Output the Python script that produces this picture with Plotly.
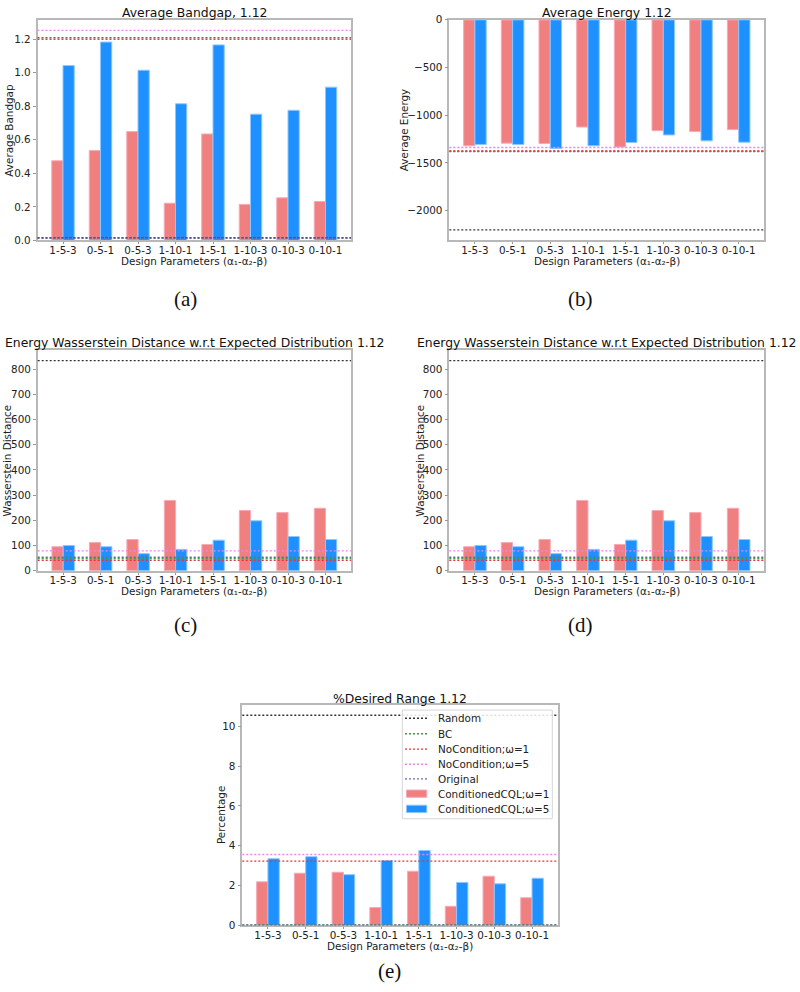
import plotly.graph_objects as go

# ---------------- data ----------------
categories = ["1-5-3", "0-5-1", "0-5-3", "1-10-1", "1-5-1", "1-10-3", "0-10-3", "0-10-1"]

bandgap_cql_w1 = [0.475, 0.536, 0.649, 0.222, 0.635, 0.215, 0.254, 0.232]
bandgap_cql_w5 = [1.043, 1.183, 1.015, 0.815, 1.166, 0.753, 0.776, 0.914]
bandgap_baselines = {"Random": 0.016, "BC": 1.200, "NoCondition;ω=1": 1.209,
                     "NoCondition;ω=5": 1.253, "Original": 0.013}

energy_cql_w1 = [-1321, -1293, -1297, -1124, -1334, -1162, -1172, -1151]
energy_cql_w5 = [-1307, -1307, -1348, -1321, -1286, -1207, -1269, -1283]
energy_baselines = {"Random": -2203, "BC": -1378, "NoCondition;ω=1": -1375,
                    "NoCondition;ω=5": -1338, "Original": -1382}

wass_cql_w1 = [95.5, 112, 124, 279, 104.5, 239, 231, 248]
wass_cql_w5 = [100.5, 95.5, 68, 85, 121.5, 198.5, 136, 124]
wass_baselines = {"Random": 834, "BC": 50, "NoCondition;ω=1": 42,
                  "NoCondition;ω=5": 79, "Original": 54}

pct_cql_w1 = [2.19, 2.62, 2.67, 0.90, 2.72, 0.96, 2.47, 1.39]
pct_cql_w5 = [3.35, 3.45, 2.55, 3.26, 3.76, 2.16, 2.09, 2.37]
pct_baselines = {"Random": 10.55, "BC": 0.03, "NoCondition;ω=1": 3.23,
                 "NoCondition;ω=5": 3.56, "Original": 0.02}

baseline_names = ["Random", "BC", "NoCondition;ω=1", "NoCondition;ω=5", "Original"]
bar_names = ["ConditionedCQL;ω=1", "ConditionedCQL;ω=5"]

# ---------------- style ----------------
W, H = 800, 992
SANS = "DejaVu Sans"
SERIF = "Liberation Serif"
line_colors = {"Random": "#333333", "BC": "#3a9a4a", "NoCondition;ω=1": "#e8333a",
               "NoCondition;ω=5": "#ee82ee", "Original": "#6a6aa8"}
red_fill, red_edge = "#F08080", "#f7a9b8"
blue_fill, blue_edge = "#1E90FF", "#8cc8ff"
spine = "#b8b8b8"
TICK = 10.4
TITLE = 12.4
DOTS = "2px,2px"


def px(x):
    return x / W


def py(y):
    return 1 - y / H


panels = [
    dict(lab="(a)", dom=(37.5, 351, 14, 237.3), title="Average Bandgap, 1.12", ty=7,
         ylabel="Average Bandgap", ylx=9.5, xly=258, labpos=(185, 297),
         w1=bandgap_cql_w1, w5=bandgap_cql_w5, base=bandgap_baselines, dtick=0.2, fmt=".1f"),
    dict(lab="(b)", dom=(449.3, 764.3, 14, 237.3), title="Average Energy 1.12", ty=7,
         ylabel="Average Energy", ylx=404, xly=258, labpos=(580, 297),
         w1=energy_cql_w1, w5=energy_cql_w5, base=energy_baselines, dtick=500, fmt="d"),
    dict(lab="(c)", dom=(37.7, 351, 348.3, 571.7),
         title="Energy Wasserstein Distance w.r.t Expected Distribution 1.12", ty=340.7,
         ylabel="Wasserstein Distance", ylx=7, xly=592, labpos=(185, 627),
         w1=wass_cql_w1, w5=wass_cql_w5, base=wass_baselines, dtick=100, fmt="d"),
    dict(lab="(d)", dom=(449.3, 764.3, 348.3, 571.7),
         title="Energy Wasserstein Distance w.r.t Expected Distribution 1.12", ty=340.7,
         ylabel="Wasserstein Distance", ylx=420, xly=592, labpos=(580, 627),
         w1=wass_cql_w1, w5=wass_cql_w5, base=wass_baselines, dtick=100, fmt="d"),
    dict(lab="(e)", dom=(242.3, 557.7, 707.3, 930.7), title="%Desired Range 1.12", ty=700.7,
         ylabel="Percentage", ylx=221, xly=951.5, labpos=(389, 977),
         w1=pct_cql_w1, w5=pct_cql_w5, base=pct_baselines, dtick=2, fmt="d"),
]

fig = go.Figure()
shapes = []
annotations = []
layout = dict(width=W, height=H, margin=dict(l=0, r=0, t=0, b=0),
              paper_bgcolor="white", plot_bgcolor="white", showlegend=False,
              barmode="overlay", font=dict(family=SANS, size=TICK, color="#222"))

for i, p in enumerate(panels, start=1):
    xa = "x" if i == 1 else f"x{i}"
    ya = "y" if i == 1 else f"y{i}"
    x0, x1, y0, y1 = p["dom"]
    fig.add_trace(go.Bar(x=categories, y=p["w1"], xaxis=xa, yaxis=ya, width=0.3, offset=-0.3,
                         marker=dict(color=red_fill, line=dict(color=red_edge, width=1)),
                         name=bar_names[0]))
    fig.add_trace(go.Bar(x=categories, y=p["w5"], xaxis=xa, yaxis=ya, width=0.3, offset=0.0,
                         marker=dict(color=blue_fill, line=dict(color=blue_edge, width=1)),
                         name=bar_names[1]))
    vals = list(p["w1"]) + list(p["w5"]) + list(p["base"].values())
    vmax, vmin = max(vals), min(vals)
    if vmin >= 0:
        yr = [0, vmax * 1.05]
    else:
        yr = [vmin * 1.05, 0]
    layout["xaxis" if i == 1 else f"xaxis{i}"] = dict(
        domain=[px(x0), px(x1)], anchor=ya, type="category", range=[-0.68, 7.68],
        showline=True, mirror=True, linecolor=spine, linewidth=1.5,
        ticks="outside", ticklen=2, tickcolor="#999", tickwidth=1, ticklabelstandoff=-3,
        tickfont=dict(size=TICK), showgrid=False, zeroline=False, fixedrange=True)
    layout["yaxis" if i == 1 else f"yaxis{i}"] = dict(
        domain=[py(y1), py(y0)], anchor=xa, range=yr, dtick=p["dtick"], tick0=0,
        tickformat=p["fmt"], showline=True, mirror=True, linecolor=spine, linewidth=1.5,
        ticks="outside", ticklen=3, tickcolor="#999", tickwidth=1,
        tickfont=dict(size=TICK), showgrid=False, zeroline=False, fixedrange=True)
    # baseline horizontal lines
    for name in baseline_names:
        shapes.append(dict(type="line", xref=f"{xa} domain", yref=ya, x0=0, x1=1,
                           y0=p["base"][name], y1=p["base"][name], layer="above",
                           line=dict(color=line_colors[name], width=1.4, dash=DOTS)))
    cx = (x0 + x1) / 2
    annotations.append(dict(text=p["title"], x=px(cx), y=py(p["ty"]), xref="paper", yref="paper",
                            showarrow=False, xanchor="center", yanchor="middle",
                            font=dict(size=TITLE, family=SANS, color="#111")))
    annotations.append(dict(text="Design Parameters (α₁-α₂-β)", x=px(cx), y=py(p["xly"]),
                            xref="paper", yref="paper", showarrow=False,
                            xanchor="center", yanchor="middle",
                            font=dict(size=TICK, family=SANS, color="#222")))
    annotations.append(dict(text=p["ylabel"], x=px(p["ylx"]), y=py((y0 + y1) / 2),
                            xref="paper", yref="paper", showarrow=False, textangle=-90,
                            xanchor="center", yanchor="middle",
                            font=dict(size=TICK, family=SANS, color="#222")))
    annotations.append(dict(text=p["lab"], x=px(p["labpos"][0]), y=py(p["labpos"][1]),
                            xref="paper", yref="paper", showarrow=False,
                            xanchor="center", yanchor="middle",
                            font=dict(size=21, family=SERIF, color="#111")))

# ---------------- legend for panel (e), drawn by hand ----------------
lx0, lx1, ly0, ly1 = 402.3, 552.3, 712.7, 822.7
shapes.append(dict(type="rect", xref="paper", yref="paper", x0=px(lx0), x1=px(lx1),
                   y0=py(ly1), y1=py(ly0), layer="above",
                   fillcolor="rgba(255,255,255,0.85)", line=dict(color="#d6d6d6", width=1)))
entry_y = [721, 736.7, 752.2, 767.5, 782.3, 797.3, 812.7]
legend_items = [(n, "line") for n in baseline_names] + [(bar_names[0], "bar_r"), (bar_names[1], "bar_b")]
for (name, kind), ey in zip(legend_items, entry_y):
    if kind == "line":
        shapes.append(dict(type="line", xref="paper", yref="paper", x0=px(405), x1=px(428.5),
                           y0=py(ey), y1=py(ey), layer="above",
                           line=dict(color=line_colors[name], width=1.4, dash=DOTS)))
    else:
        fc = red_fill if kind == "bar_r" else blue_fill
        ec = red_edge if kind == "bar_r" else blue_edge
        shapes.append(dict(type="rect", xref="paper", yref="paper", x0=px(406.5), x1=px(426.8),
                           y0=py(ey + 3.7), y1=py(ey - 3.7), layer="above",
                           fillcolor=fc, line=dict(color=ec, width=1)))
    annotations.append(dict(text=name, x=px(436), y=py(ey), xref="paper", yref="paper",
                            showarrow=False, xanchor="left", yanchor="middle",
                            font=dict(size=TICK, family=SANS, color="#222")))

layout["shapes"] = shapes
layout["annotations"] = annotations
fig.update_layout(**layout)
fig.write_html("out.html", config={"displayModeBar": False},
               post_script="document.body.style.margin='0';document.body.style.overflow='hidden';")
